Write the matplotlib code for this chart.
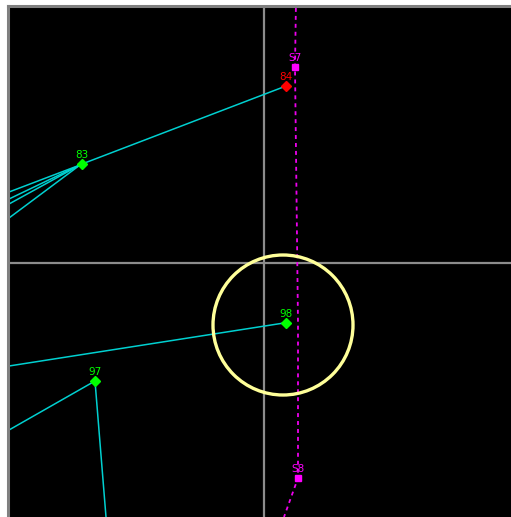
import numpy as np
import matplotlib
matplotlib.use("Agg")
import matplotlib.pyplot as plt
from matplotlib.patches import Circle

# nodes (pixel-like coordinates of the view)
node_names = ["S7", "84", "83", "98", "97", "S8"]
node_x = [295, 286, 82, 286, 95, 298]
node_y = [67, 86, 164, 323, 381, 478]
node_colors = ["#ff00ff", "#ff0000", "#00ff00", "#00ff00", "#00ff00", "#ff00ff"]
node_markers = ["s", "D", "D", "D", "D", "s"]

# cyan links (x0, y0, x1, y1)
links_x0 = [286, 80, 80, 80, 80, 284, 95, 95]
links_y0 = [86, 165, 165, 165, 165, 323, 381, 381]
links_x1 = [82, 9, 9, 9, 9, 9, 9, 106]
links_y1 = [164, 192, 199, 204, 218, 366, 430, 517]

# magenta dashed path
route_x = [296, 295, 298, 298, 284]
route_y = [0, 67, 323, 478, 517]

# crosshair and highlight circle
cross_x, cross_y = 264, 263
ring_x, ring_y, ring_r = 283, 325, 70

fig = plt.figure(figsize=(5.11, 5.17), dpi=100)
fig.patch.set_facecolor("white")
ax = fig.add_axes([8 / 511, 0, 503 / 511, 511 / 517])
ax.set_facecolor("black")
ax.set_xlim(8, 511)
ax.set_ylim(517, 6)
ax.set_xticks([])
ax.set_yticks([])
for s in ["right", "bottom"]:
    ax.spines[s].set_visible(False)
for s in ["left", "top"]:
    ax.spines[s].set_color("#808080")
    ax.spines[s].set_linewidth(2.2)

ax.axvline(cross_x, color="#8c8c8c", lw=1.6, zorder=1)
ax.axhline(cross_y, color="#8c8c8c", lw=1.6, zorder=1)

for x0, y0, x1, y1 in zip(links_x0, links_y0, links_x1, links_y1):
    ax.plot([x0, x1], [y0, y1], color="#00d0d0", lw=1.1, zorder=2)

ax.plot(route_x, route_y, color="#ee00ee", lw=1.3, ls=(0, (2.2, 2.2)), zorder=2)

ax.add_patch(Circle((ring_x, ring_y), ring_r, fill=False, ec="#ffff99", lw=2.4, zorder=3))

for name, x, y, c, m in zip(node_names, node_x, node_y, node_colors, node_markers):
    ax.plot(x, y, marker=m, color=c, ms=5.5 if m == "D" else 4, zorder=4)
    ax.text(x, y - 4, name, color=c, fontsize=7.5, ha="center", va="bottom", zorder=5)

fig.savefig("out.png", dpi=100, facecolor="white")
